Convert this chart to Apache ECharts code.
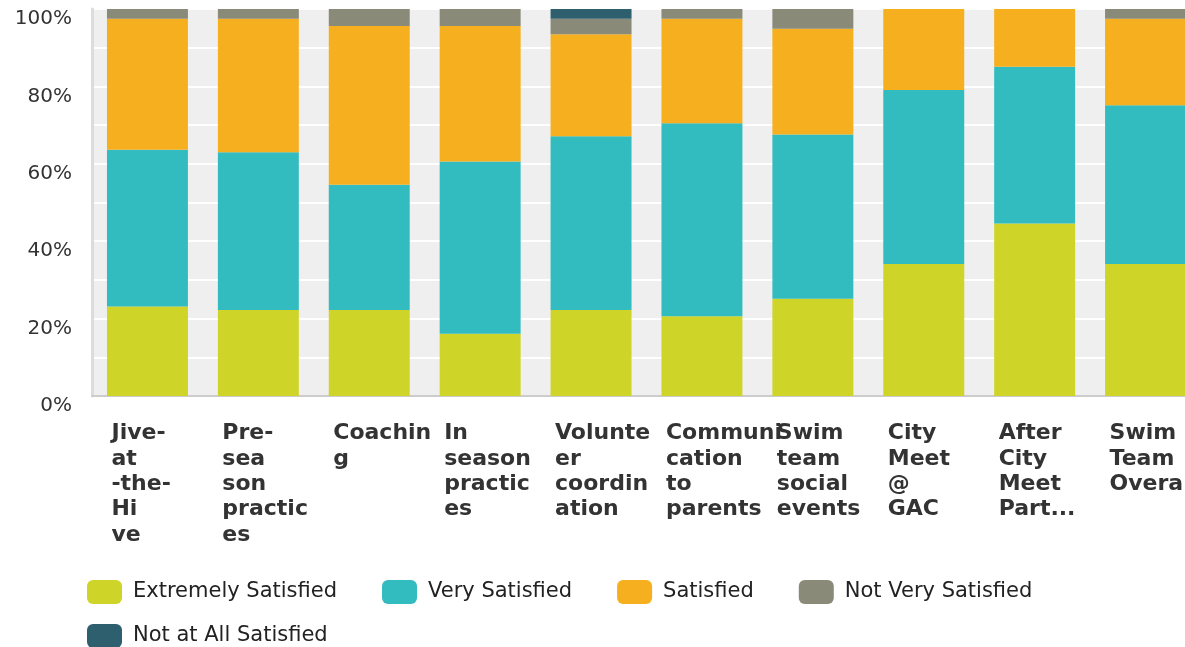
<!DOCTYPE html>
<html>
<head>
<meta charset="utf-8">
<script src="https://cdn.jsdelivr.net/npm/echarts@6/dist/echarts.min.js"></script>
<style>
html,body{margin:0;padding:0;background:#fff;}
#c{width:1185px;height:647px;}
</style>
</head>
<body>
<div id="c"></div>
<script>
const categories = ['Jive-at-the-Hive','Pre-season practices','Coaching','In season practices','Volunteer coordination','Communication to parents','Swim team social events','City Meet @ GAC','After City Meet Part...','Swim Team Overall'];
const tickLabels = ['Jive-\nat\n-the-\nHi\nve','Pre-\nsea\nson\npractic\nes','Coachin\ng','In\nseason\npractic\nes','Volunte\ner\ncoordin\nation','Communi\ncation\nto\nparents','Swim\nteam\nsocial\nevents','City\nMeet\n@\nGAC','After\nCity\nMeet\nPart...','Swim\nTeam\nOverall'];
const seriesNames = ['Extremely Satisfied','Very Satisfied','Satisfied','Not Very Satisfied','Not at All Satisfied'];
const extremelySatisfied = [23.1, 22.2, 22.2, 16.1, 22.2, 20.6, 25.1, 34.1, 44.6, 34.1];
const verySatisfied      = [40.5, 40.8, 32.4, 44.5, 44.9, 49.9, 42.5, 45.0, 40.5, 41.0];
const satisfied          = [33.9, 34.5, 41.0, 35.0, 26.4, 27.0, 27.3, 20.9, 14.9, 22.4];
const notVerySatisfied   = [2.5, 2.5, 4.4, 4.4, 4.0, 2.5, 5.1, 0, 0, 2.5];
const notAtAllSatisfied  = [0, 0, 0, 0, 2.5, 0, 0, 0, 0, 0];
const yTicks = [0, 20, 40, 60, 80, 100];

const colors = ['#CFD428','#33BCBF','#F6AF1F','#898A78','#2D5F6E'];
const values = [extremelySatisfied, verySatisfied, satisfied, notVerySatisfied, notAtAllSatisfied];

const chart = echarts.init(document.getElementById('c'), null, {renderer:'canvas'});
const legendText = {fontFamily:'DejaVu Sans', fontSize:21, color:'#222', lineHeight:24, padding:[0,0,0,6]};
chart.setOption({
  animation:false,
  color: colors,
  grid:{left:92, width:1109, top:9, bottom:251, show:true, backgroundColor:'#efefef', borderWidth:0, containLabel:false, outerBoundsMode:'none'},
  legend:[
    {data: seriesNames.slice(0,4), left:87, top:580, itemWidth:35, itemHeight:24, itemGap:45, icon:'roundRect', textStyle:legendText, padding:0},
    {data: seriesNames.slice(4), left:87, top:624, itemWidth:35, itemHeight:24, icon:'roundRect', textStyle:legendText, padding:0}
  ],
  xAxis:{
    type:'category', data: categories,
    axisLine:{show:true, lineStyle:{color:'#cccccc', width:2}},
    axisTick:{show:false},
    splitLine:{show:false},
    axisLabel:{
      interval:0, margin:25, align:'center', verticalAlign:'top', hideOverlap:false,
      formatter:function(v, i){
        return tickLabels[i].split('\n').map(function(s){return '{a|'+s+'}';}).join('\n');
      },
      rich:{a:{width:72, align:'left', fontFamily:'DejaVu Sans', fontWeight:'bold', fontSize:22, lineHeight:25.3, color:'#333'}}
    }
  },
  yAxis:{
    type:'value', min:0, max:100, interval:20,
    axisLine:{show:true, lineStyle:{color:'#dcdcdc', width:3}},
    axisTick:{show:false},
    splitLine:{show:true, lineStyle:{color:'#ffffff', width:2}},
    minorTick:{show:false, splitNumber:2},
    minorSplitLine:{show:true, lineStyle:{color:'#ffffff', width:2}},
    axisLabel:{
      margin:20, fontFamily:'DejaVu Sans', fontSize:20, color:'#333',
      verticalAlign:'top',
      formatter:function(v){ return yTicks.indexOf(v) >= 0 ? v + '%' : ''; }
    }
  },
  series: seriesNames.map(function(n, k){
    return {name:n, type:'bar', stack:'total', data: values[k], barCategoryGap:'27%', itemStyle:{color:colors[k]}};
  })
});
</script>
</body>
</html>
